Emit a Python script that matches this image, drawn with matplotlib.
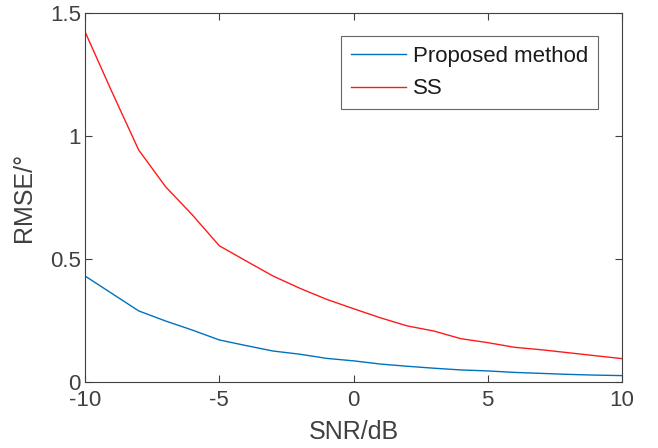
import matplotlib
matplotlib.use("Agg")
import matplotlib.pyplot as plt

plt.rcParams["font.family"] = ["Liberation Sans", "DejaVu Sans"]
plt.rcParams["axes.unicode_minus"] = False

snr = list(range(-10, 11))
rmse_proposed = [0.431, 0.36, 0.289, 0.248, 0.211, 0.171, 0.148, 0.126, 0.113, 0.096,
                 0.086, 0.073, 0.064, 0.056, 0.049, 0.045, 0.039, 0.035, 0.031, 0.028, 0.026]
rmse_ss = [1.424, 1.18, 0.943, 0.794, 0.679, 0.554, 0.492, 0.431, 0.381, 0.336,
           0.298, 0.261, 0.228, 0.207, 0.176, 0.160, 0.141, 0.131, 0.119, 0.107, 0.095]

fig = plt.figure(figsize=(6.58, 4.48), dpi=100)
ax = fig.add_axes([85 / 658, 66 / 448, 537 / 658, 369 / 448])

ax.plot(snr, rmse_proposed, color=(0, 0.447, 0.741), lw=1, label="Proposed method")
ax.plot(snr, rmse_ss, color=(1, 0.1, 0.1), lw=1, label="SS")

ax.set_xlim(-10, 10)
ax.set_ylim(0, 1.5)
ax.set_xticks([-10, -5, 0, 5, 10])
ax.set_yticks([0, 0.5, 1, 1.5])
ax.set_yticklabels(["0", "0.5", "1", "1.5"])
ax.tick_params(direction="in", length=5, labelsize=16, colors="0.25", top=True, right=True,
               labeltop=False, labelright=False)
ax.tick_params(axis="x", pad=6)
ax.tick_params(axis="y", pad=3)
for s in ax.spines.values():
    s.set_color("0.25")
    s.set_linewidth(0.8)

ax.set_xlabel("SNR/dB", fontsize=18, color="0.25", labelpad=6)
ax.set_ylabel("RMSE/°", fontsize=18, color="0.25", labelpad=10)

leg = ax.legend(loc="upper right", bbox_to_anchor=(0.9553, 0.9377), fontsize=16, frameon=True,
                fancybox=False, handlelength=2.5, borderpad=0.44, labelspacing=0.52,
                handletextpad=0.3, borderaxespad=0)
leg.get_frame().set_edgecolor("0.25")
leg.get_frame().set_linewidth(0.8)
for t in leg.get_texts():
    t.set_color("0.1")

fig.savefig("out.png", dpi=100)
